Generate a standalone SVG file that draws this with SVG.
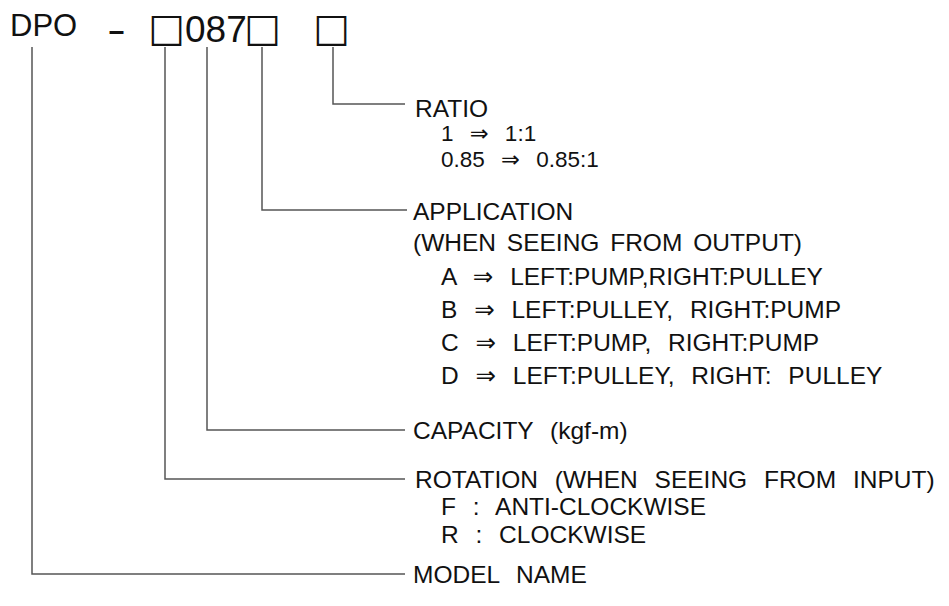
<svg xmlns="http://www.w3.org/2000/svg" width="949" height="606" viewBox="0 0 949 606">
<style>
text{font-family:"Liberation Sans","DejaVu Sans",sans-serif;fill:#111;white-space:pre}
.lb{font-size:24.5px;word-spacing:10px}
.sm{font-size:22.5px;word-spacing:10px}
.nw{word-spacing:4px}
.ti{font-size:31px}
.big{font-size:37px}
.bx{font-family:"DejaVu Sans",sans-serif;font-size:39px}
.c{fill:none;stroke:#555;stroke-width:1.5}
</style>
<rect width="949" height="606" fill="#fff"/>
<g id="code">
<text class="ti" x="10" y="36">DPO</text>
<text class="big" x="107" y="42" textLength="19" lengthAdjust="spacingAndGlyphs">-</text>
<text class="bx" x="148" y="41">□</text>
<text class="big" x="185" y="42">087</text>
<text class="bx" x="244" y="41">□</text>
<text class="bx" x="313" y="41">□</text>
</g>
<g id="connectors">
<path class="c" d="M333 47V104H405"/>
<path class="c" d="M262 47V210H407"/>
<path class="c" d="M207 47V430H405"/>
<path class="c" d="M165 47V479H405"/>
<path class="c" d="M32 47V574H405"/>
</g>
<g id="ratio">
<text class="lb" x="415" y="117">RATIO</text>
<text class="sm" x="441" y="141">1 ⇒ 1:1</text>
<text class="sm" x="441" y="167">0.85 ⇒ 0.85:1</text>
</g>
<g id="application">
<text class="lb" x="413" y="220">APPLICATION</text>
<text class="lb nw" x="413" y="251">(WHEN SEEING FROM OUTPUT)</text>
<text class="lb" x="441" y="285">A ⇒ LEFT:PUMP,RIGHT:PULLEY</text>
<text class="lb" x="441" y="318">B ⇒ LEFT:PULLEY, RIGHT:PUMP</text>
<text class="lb" x="441" y="351">C ⇒ LEFT:PUMP, RIGHT:PUMP</text>
<text class="lb" x="441" y="384">D ⇒ LEFT:PULLEY, RIGHT: PULLEY</text>
</g>
<g id="capacity">
<text class="lb" x="413" y="439">CAPACITY (kgf-m)</text>
</g>
<g id="rotation">
<text class="lb" x="415" y="488">ROTATION (WHEN SEEING FROM INPUT)</text>
<text class="lb" x="441" y="515">F : ANTI-CLOCKWISE</text>
<text class="lb" x="441" y="543">R : CLOCKWISE</text>
</g>
<g id="model">
<text class="lb" x="413" y="583">MODEL NAME</text>
</g>
</svg>
